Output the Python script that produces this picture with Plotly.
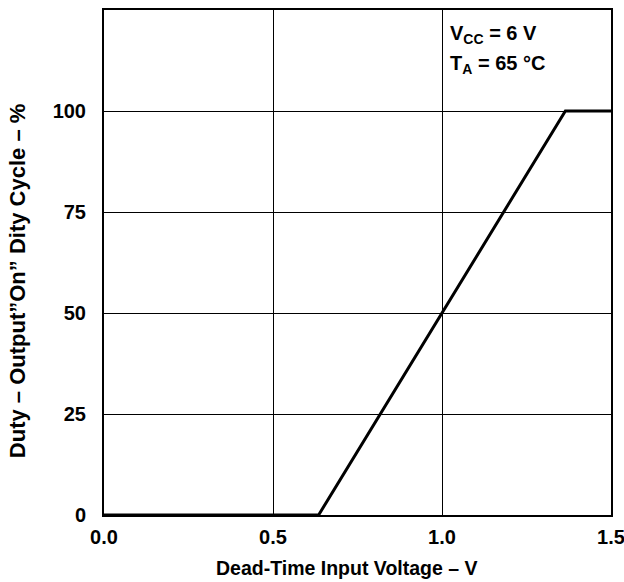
import plotly.graph_objects as go

voltage = [0.0, 0.635, 1.365, 1.5]
duty = [0, 0, 100, 100]
x_ticks = [0.0, 0.5, 1.0, 1.5]
x_tick_labels = ["0.0", "0.5", "1.0", "1.5"]
y_ticks = [0, 25, 50, 75, 100]
y_tick_labels = ["0", "25", "50", "75", "100"]
x_title = "Dead-Time Input Voltage – V"
y_title = "Duty – Output”On” Dity Cycle – %"

font = "Liberation Sans, Arial, sans-serif"

fig = go.Figure()
fig.add_trace(go.Scatter(x=voltage, y=duty, mode="lines",
                         line=dict(color="black", width=3), cliponaxis=False,
                         showlegend=False))

fig.update_layout(
    width=624, height=582,
    margin=dict(l=104, r=13, t=10, b=67),
    plot_bgcolor="white", paper_bgcolor="white",
    font=dict(family=font, size=20, color="black"),
)
fig.update_xaxes(range=[0, 1.5], tickvals=x_ticks, ticktext=[f"<b>{t}</b>" for t in x_tick_labels],
                 showgrid=True, gridcolor="black", gridwidth=1,
                 showline=True, linecolor="black", linewidth=2, mirror=True,
                 ticks="", zeroline=False, ticklabelstandoff=3,
                 ticklabeloverflow="allow", automargin=False,
                 tickfont=dict(family=font, size=20, color="black"))
fig.update_yaxes(range=[0, 125], tickvals=y_ticks, ticktext=[f"<b>{t}</b>" for t in y_tick_labels],
                 showgrid=True, gridcolor="black", gridwidth=1,
                 showline=True, linecolor="black", linewidth=2, mirror=True,
                 ticks="", zeroline=False, ticklabelstandoff=12,
                 ticklabeloverflow="allow", automargin=False,
                 tickfont=dict(family=font, size=20, color="black"))

# axis titles
fig.add_annotation(xref="paper", yref="paper", x=0.479, y=-0.105,
                   xanchor="center", yanchor="middle", showarrow=False,
                   text=f"<b>{x_title}</b>", font=dict(family=font, size=19.5, color="black"))
fig.add_annotation(xref="paper", yref="paper", x=-0.1716, y=0.465,
                   xanchor="center", yanchor="middle", showarrow=False, textangle=-90,
                   text=f"<b>{y_title}</b>", font=dict(family=font, size=22, color="black"))

fig.add_annotation(xref="paper", yref="paper", x=0.678, y=0.952,
                   xanchor="left", yanchor="middle", showarrow=False, align="left",
                   text="<b>V<sub>CC</sub> = 6 V</b>",
                   font=dict(family=font, size=20, color="black"))
fig.add_annotation(xref="paper", yref="paper", x=0.678, y=0.893,
                   xanchor="left", yanchor="middle", showarrow=False, align="left",
                   text="<b>T<sub>A</sub> = 65 °C</b>",
                   font=dict(family=font, size=20, color="black"))

fig.write_html("out.html")
